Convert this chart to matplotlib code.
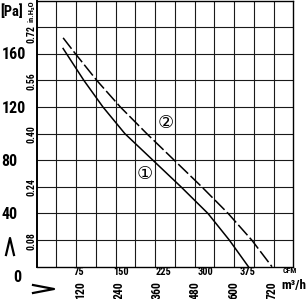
import matplotlib
matplotlib.use("Agg")
import matplotlib.pyplot as plt
from matplotlib import font_manager
from matplotlib.lines import Line2D
import numpy as np

# fan curves, airflow in CFM vs static pressure in Pa
curve1_cfm = [47, 84, 118, 157, 207, 257, 305, 343, 377]
curve1_pa = [164, 140, 120, 100, 80, 60, 40, 20, 0]
curve2_cfm = [47, 69, 107, 149, 196, 245, 294, 341, 383, 419]
curve2_pa = [172, 160, 140, 120, 100, 80, 60, 40, 20, 0]

pa_ticks = [40, 80, 120, 160]
inh2o_ticks = [0.08, 0.24, 0.40, 0.56, 0.72]
cfm_ticks = [75, 150, 225, 300, 375]
m3h_ticks = [120, 240, 360, 480, 600, 720]

X_MAX = 457
Y_MAX = 200

# pick a narrow font if one is installed
names = {f.name for f in font_manager.fontManager.ttflist}
narrow = [n for n in ["Liberation Sans Narrow", "DejaVu Sans Condensed",
                      "Roboto Condensed", "Open Sans Condensed"] if n in names]
FONT = narrow[:1] + ["Liberation Sans", "DejaVu Sans"]

fig = plt.figure(figsize=(3.06, 2.99), dpi=100)
ax = fig.add_axes([0.12, 0.108, 0.8386, 0.890])
ax.set_xlim(0, X_MAX)
ax.set_ylim(0, Y_MAX)

# grid: 13 columns x 10 rows
for gx in np.linspace(0, X_MAX, 14)[1:-1]:
    ax.axvline(gx, color="#1a1a1a", lw=0.8, zorder=1)
for gy in np.arange(20, Y_MAX, 20):
    ax.axhline(gy, color="#1a1a1a", lw=0.8, zorder=1)

ax.plot(curve1_cfm, curve1_pa, color="black", lw=1.1, zorder=3)
ax.plot(curve2_cfm, curve2_pa, color="black", lw=1.1, dashes=(9, 2.2), zorder=3)

ax.text(192, 70, "\u2460", fontsize=13, ha="center", va="center", family="DejaVu Sans")
ax.text(229, 108, "\u2461", fontsize=13, ha="center", va="center", family="DejaVu Sans")

ax.set_xticks([])
ax.set_yticks([])
for s in ax.spines.values():
    s.set_linewidth(1.0)
ax.spines["left"].set_linewidth(1.4)

ytr = ax.get_yaxis_transform()
xtr = ax.get_xaxis_transform()

# left Pa axis
for v in pa_ticks:
    ax.text(-0.137, v - 0.8, str(v), transform=ytr, ha="left", va="center",
            fontsize=11.5, fontweight="bold", family=FONT)
ax.text(-0.075, -0.042, "0", transform=ax.transAxes, ha="center", va="center",
        fontsize=11.5, fontweight="bold", family=FONT)
ax.text(-0.143, 0.985, "[Pa]", transform=ax.transAxes, ha="left", va="top",
        fontsize=10.5, fontweight="bold", family=FONT)

# inch H2O axis (top label pushed down below the unit text)
for v in inh2o_ticks:
    shift = 5.5 if v == 0.72 else 0.5
    ax.text(-0.022, v / 0.08 * 20 - shift, f"{v:.2f}", transform=ytr, ha="center",
            va="center", rotation=90, fontsize=7, fontweight="bold", family=FONT)
ax.text(-0.022, 1.0, "in.H\u2082O", transform=ax.transAxes, ha="center", va="top",
        rotation=90, fontsize=6, fontweight="bold", family=FONT)

# bottom CFM and m3/h labels
for v in cfm_ticks:
    ax.text(v, -0.021, str(v), transform=xtr, ha="center", va="center",
            fontsize=7.5, fontweight="bold", family=FONT)
ax.text(0.987, -0.014, "CFM", transform=ax.transAxes, ha="center", va="center",
        fontsize=5.7, fontweight="bold", family=FONT)
for v in m3h_ticks:
    # placed where the original sheet prints them
    ax.text(v / 1.76 + 10, -0.087, str(v), transform=xtr, ha="center", va="center",
            rotation=90, fontsize=8.5, fontweight="bold", family=FONT)
ax.text(0.954, -0.069, "m\u00b3/h", transform=ax.transAxes, ha="left", va="center",
        fontsize=9.5, fontweight="bold", family=FONT)

# small arrow marks
fig.add_artist(Line2D([6 / 306, 10 / 306, 14 / 306],
                      [1 - 255 / 299, 1 - 238 / 299, 1 - 255 / 299],
                      color="black", lw=1.6, transform=fig.transFigure))
fig.add_artist(Line2D([33 / 306, 54 / 306, 33 / 306],
                      [1 - 285 / 299, 1 - 289 / 299, 1 - 293 / 299],
                      color="black", lw=1.6, transform=fig.transFigure))

fig.savefig("out.png", dpi=100)
